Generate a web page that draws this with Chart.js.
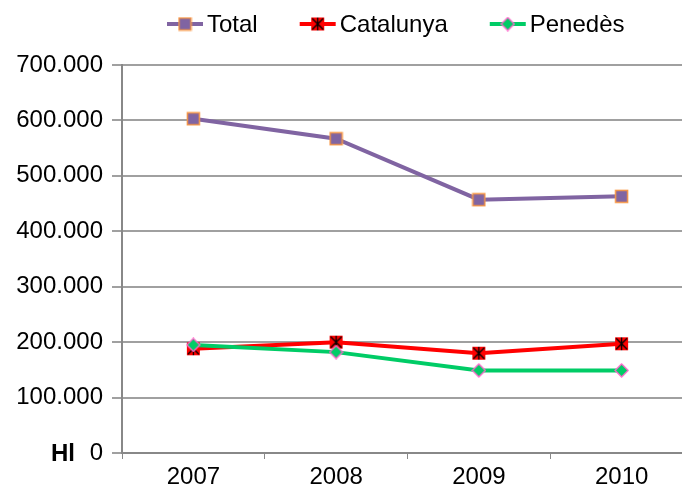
<!DOCTYPE html>
<html>
<head>
<meta charset="utf-8">
<script src="https://cdn.jsdelivr.net/npm/chart.js@4.4.1/dist/chart.umd.min.js"></script>
<style>
  html, body { margin: 0; padding: 0; background: #fff; overflow: hidden; }
  #wrap { width: 682px; height: 492px; overflow: hidden; }
</style>
</head>
<body>
<div id="wrap"><canvas id="chart" width="701" height="492"></canvas></div>
<script>
/* ---------- Data ---------- */
const years = ['2007', '2008', '2009', '2010'];
const total = [603000, 567000, 457000, 463000];
const catalunya = [188000, 200000, 180000, 197000];
const penedes = [195000, 182000, 149000, 149000];
const yTicks = [0, 100000, 200000, 300000, 400000, 500000, 600000, 700000];
const yTickLabels = ['0', '100.000', '200.000', '300.000', '400.000', '500.000', '600.000', '700.000'];
const unitLabel = 'Hl';

const FONT = '"Liberation Sans", Arial, sans-serif';

/* ---------- Marker images ---------- */
function makeMarker(kind) {
    const c = document.createElement('canvas');
    c.width = 15; c.height = 15;
    const g = c.getContext('2d');
    if (kind === 'square') {
        g.fillStyle = '#8064A2';
        g.fillRect(1, 1, 13, 13);
        g.strokeStyle = '#F79646';
        g.lineWidth = 1.5;
        g.strokeRect(1.5, 1.5, 12, 12);
    } else if (kind === 'star') {
        g.fillStyle = '#FF0000';
        g.fillRect(1, 1, 13, 13);
        g.strokeStyle = '#000';
        g.lineWidth = 1.3;
        g.beginPath();
        g.moveTo(2, 2); g.lineTo(13, 13);
        g.moveTo(13, 2); g.lineTo(2, 13);
        g.moveTo(7.5, 1); g.lineTo(7.5, 14);
        g.stroke();
    } else {
        g.beginPath();
        g.moveTo(7.5, 1); g.lineTo(14, 7.5); g.lineTo(7.5, 14); g.lineTo(1, 7.5);
        g.closePath();
        g.fillStyle = '#00CC66';
        g.fill();
        g.strokeStyle = '#FF66CC';
        g.lineWidth = 1.3;
        g.stroke();
    }
    return c;
}

/* ---------- Plugins ---------- */
const lineLegend = {
    id: 'lineLegend',
    afterDraw(chart) {
        const ctx = chart.ctx;
        ctx.save();
        ctx.font = '24px ' + FONT;
        ctx.textBaseline = 'middle';
        let x = 167;
        const y = 24;
        chart.data.datasets.forEach(ds => {
            ctx.strokeStyle = ds.borderColor;
            ctx.lineWidth = 4;
            ctx.beginPath();
            ctx.moveTo(x, y);
            ctx.lineTo(x + 36, y);
            ctx.stroke();
            const img = ds.pointStyle;
            ctx.drawImage(img, x + 18 - img.width / 2, y - img.height / 2);
            ctx.fillStyle = '#000';
            ctx.fillText(ds.label, x + 40, y + 1);
            x += 40 + ctx.measureText(ds.label).width + 42;
        });
        ctx.restore();
    }
};

const unitText = {
    id: 'unitText',
    afterDraw(chart) {
        const ctx = chart.ctx;
        const yScale = chart.scales.y;
        ctx.save();
        ctx.font = 'bold 24px ' + FONT;
        ctx.fillStyle = '#000';
        ctx.textAlign = 'right';
        ctx.textBaseline = 'middle';
        ctx.fillText(unitLabel, 75, yScale.getPixelForValue(0) + 1);
        ctx.restore();
    }
};

/* ---------- Chart ---------- */
const ctx = document.getElementById('chart').getContext('2d');
new Chart(ctx, {
    type: 'line',
    data: {
        labels: years,
        datasets: [
            {
                label: 'Total',
                data: total,
                borderColor: '#8064A2',
                borderWidth: 4,
                pointStyle: makeMarker('square'),
                order: 2
            },
            {
                label: 'Catalunya',
                data: catalunya,
                borderColor: '#FF0000',
                borderWidth: 4,
                pointStyle: makeMarker('star'),
                order: 1
            },
            {
                label: 'Penedès',
                data: penedes,
                borderColor: '#00CC66',
                borderWidth: 4,
                pointStyle: makeMarker('diamond'),
                order: 0
            }
        ]
    },
    options: {
        responsive: false,
        animation: false,
        tension: 0,
        layout: { padding: { top: 65, right: 0, left: 0, bottom: 0 } },
        plugins: {
            legend: { display: false },
            tooltip: { enabled: false }
        },
        scales: {
            x: {
                offset: true,
                grid: {
                    offset: true,
                    drawOnChartArea: false,
                    drawTicks: true,
                    tickLength: 6,
                    color: '#888'
                },
                border: { color: '#888', width: 2 },
                ticks: {
                    color: '#000',
                    font: { family: FONT, size: 24 },
                    padding: 4
                },
                afterFit(scale) { scale.height = 39; }
            },
            y: {
                min: 0,
                max: 700000,
                afterBuildTicks(scale) {
                    scale.ticks = yTicks.map(v => ({ value: v }));
                },
                grid: {
                    color: '#A0A0A0',
                    lineWidth: 2,
                    tickLength: 10,
                    drawTicks: true
                },
                border: { color: '#888', width: 2 },
                ticks: {
                    color: '#000',
                    font: { family: FONT, size: 24 },
                    padding: 9,
                    callback: (v) => yTickLabels[yTicks.indexOf(v)]
                },
                afterFit(scale) { scale.width = 122; }
            }
        }
    },
    plugins: [lineLegend, unitText]
});
</script>
</body>
</html>
